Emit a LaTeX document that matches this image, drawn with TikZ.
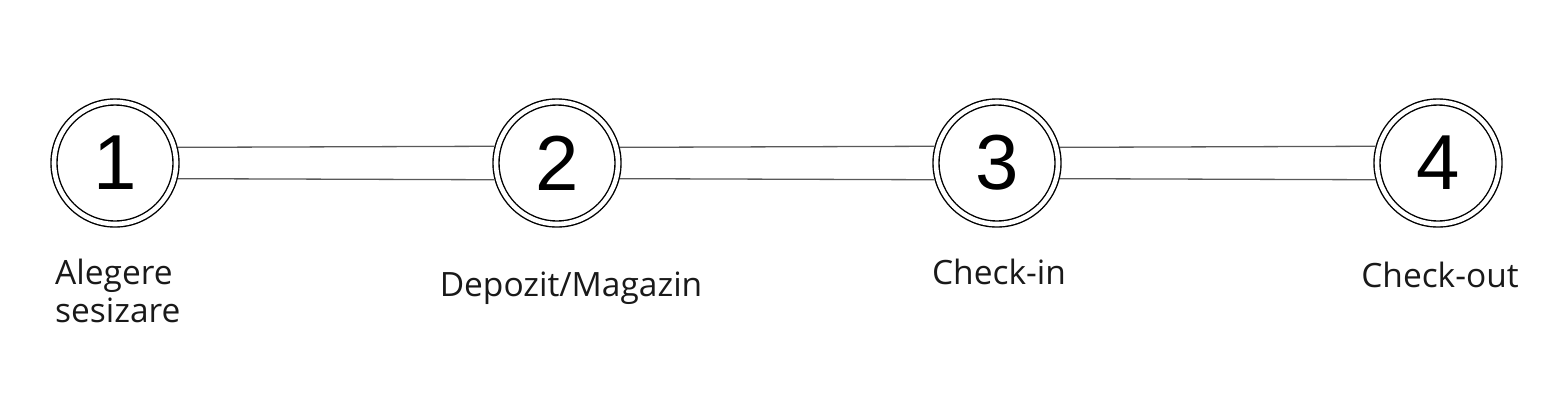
\documentclass[tikz,border=0pt]{standalone}
\usepackage{fontspec}
\setmainfont{Open Sans}
\newfontfamily\digitfont{Liberation Sans}
\usetikzlibrary{positioning}

\tikzset{
	stepcircle/.style={circle, draw=black, line width=1.4pt, double=white, double distance=4.6pt,
		minimum size=122pt, inner sep=0pt, outer sep=3.7pt, fill=white,
		font=\digitfont\fontsize{78}{78}\selectfont},
	steplabel/.style={anchor=base, inner sep=0pt, font=\fontsize{33.5}{38}\selectfont, text=black!90},
	barline/.style={line width=1.3pt, draw=black!65}
}

\begin{document}
\begin{tikzpicture}[x=1pt, y=-1pt]
		\useasboundingbox (0,0) rectangle (1556,408);
		% Steps
		\node[stepcircle] (s1) at (115,163) {1};
		\node[stepcircle] (s2) at (557,163) {2};
		\node[stepcircle] (s3) at (997,163) {3};
		\node[stepcircle] (s4) at (1438,163) {4};

		% Bars between the steps
		\foreach \a/\b in {s1/s2, s2/s3, s3/s4} {
			\draw[barline] (\a.14.3) -- (\b.165.7);
			\draw[barline] (\a.-14.3) -- (\b.-165.7);
		}

		% Labels
		\node[steplabel, anchor=base west, align=left] (l1) at (55,322) {Alegere\\sesizare};
		\node[steplabel] (l2) at (571,296) {Depozit/Magazin};
		\node[steplabel] (l3) at (999,284) {Check-in};
		\node[steplabel] (l4) at (1440,287) {Check-out};
	\end{tikzpicture}
\end{document}
